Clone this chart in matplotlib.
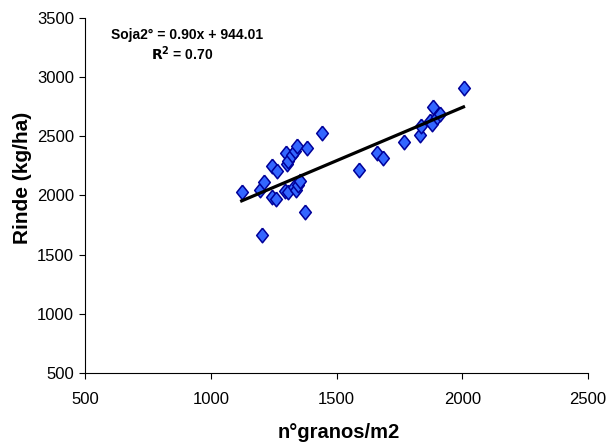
import matplotlib
matplotlib.use('Agg')
import matplotlib.pyplot as plt

plt.rcParams['font.family'] = ['Liberation Sans', 'DejaVu Sans']

# grain number (n°/m2) and yield (kg/ha)
GRANOS = [1123, 1202, 1196, 1212, 1242, 1245, 1259, 1262, 1295, 1298, 1302, 1309,
          1309, 1322, 1331, 1335, 1339, 1344, 1348, 1355, 1375, 1384, 1444, 1589,
          1663, 1686, 1768, 1832, 1835, 1870, 1878, 1885, 1898, 1911, 2005]
RINDE = [2030, 1665, 2050, 2110, 2250, 1990, 1970, 2210, 2040, 2360, 2270, 2290,
         2030, 2340, 2070, 2380, 2050, 2420, 2090, 2120, 1860, 2405, 2530, 2215,
         2360, 2320, 2455, 2510, 2590, 2630, 2600, 2745, 2660, 2690, 2910]

SLOPE = 0.90
INTERCEPT = 944.01
R2 = 0.70

X_TICKS = [500, 1000, 1500, 2000, 2500]
Y_TICKS = [500, 1000, 1500, 2000, 2500, 3000, 3500]

DIAMOND = [(0, 1), (0.8, 0), (0, -1), (-0.8, 0), (0, 1)]


def main():
    fig = plt.figure(figsize=(6.07, 4.44), dpi=100)
    ax = fig.add_axes([85 / 607, 1 - 373 / 444, 503 / 607, 355 / 444])

    ax.plot(GRANOS, RINDE, linestyle='none', marker=DIAMOND, markersize=10.5,
            markerfacecolor='#3366ff', markeredgecolor='#000099',
            markeredgewidth=1.1, zorder=2)

    x0, x1 = min(GRANOS), max(GRANOS)
    ax.plot([x0, x1], [SLOPE * x0 + INTERCEPT, SLOPE * x1 + INTERCEPT],
            color='black', linewidth=2.3, zorder=3)

    ax.set_xlim(500, 2500)
    ax.set_ylim(500, 3500)
    ax.set_xticks(X_TICKS)
    ax.set_yticks(Y_TICKS)
    ax.tick_params(direction='out', length=4, width=0.8, labelsize=12, color='black')
    ax.tick_params(axis='x', pad=10)
    ax.tick_params(axis='y', pad=4)

    for side in ['top', 'right']:
        ax.spines[side].set_visible(False)
    for side in ['left', 'bottom']:
        ax.spines[side].set_linewidth(0.8)

    ax.set_xlabel('n°granos/m2', fontsize=14.5, fontweight='bold')
    ax.set_ylabel('Rinde (kg/ha)', fontsize=15, fontweight='bold')
    ax.xaxis.set_label_coords(0.505, -0.142)
    ax.yaxis.set_label_coords(-0.105, 0.55)

    ax.text((187 - 85) / 503, (373 - 35) / 355,
            'Soja2° = %.2fx + %.2f' % (SLOPE, INTERCEPT),
            transform=ax.transAxes, ha='center', va='center',
            fontsize=10, fontweight='bold')
    ax.text((182 - 85) / 503, (373 - 54) / 355,
            '$\\mathbf{R^2}$ = %.2f' % R2,
            transform=ax.transAxes, ha='center', va='center',
            fontsize=10, fontweight='bold')

    fig.savefig('out.png', dpi=100)


if __name__ == '__main__':
    main()
